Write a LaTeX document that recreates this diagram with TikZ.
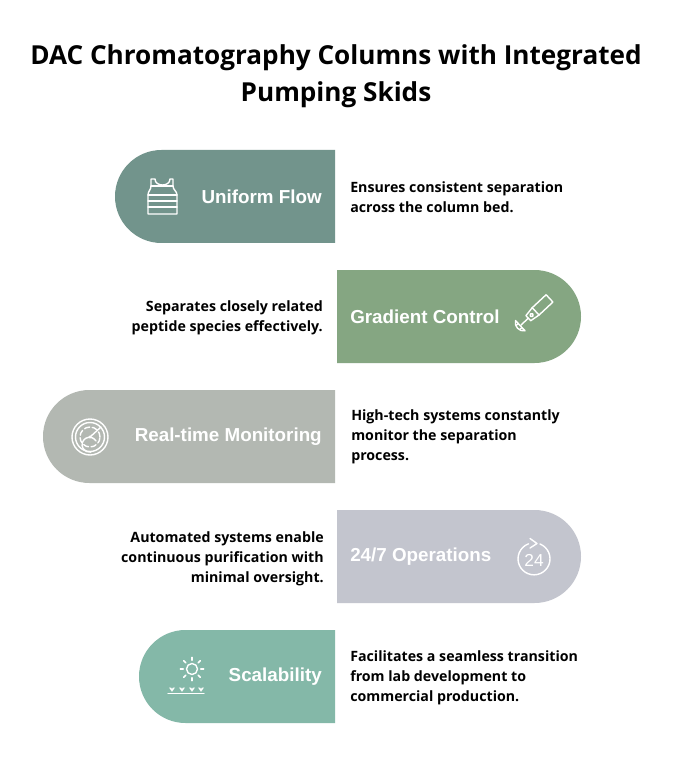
\documentclass[tikz,border=0pt]{standalone}
\usepackage{fontspec}
\setmainfont{Open Sans}
\newfontfamily\labelfont{Liberation Sans}
\usetikzlibrary{arrows.meta}
\definecolor{pa}{HTML}{72948C}
\definecolor{pb}{HTML}{85A682}
\definecolor{pc}{HTML}{B3B8B2}
\definecolor{pd}{HTML}{C3C5CE}
\definecolor{pe}{HTML}{84B8A8}
\tikzset{
 titletext/.style={font=\fontsize{19.6}{27.8}\selectfont\bfseries,align=center,inner sep=0pt,text=black},
 pilllabel/.style={font=\labelfont\fontsize{14.1}{18}\selectfont\bfseries,text=white,inner sep=0pt,anchor=east},
 pilllabelb/.style={font=\labelfont\fontsize{14.1}{18}\selectfont\bfseries,text=white,inner sep=0pt,anchor=west},
 bodyl/.style={font=\fontsize{10.65}{15}\selectfont\bfseries,align=left,anchor=west,inner sep=0pt,text=black},
 bodyr/.style={font=\fontsize{10.65}{15}\selectfont\bfseries,align=right,anchor=east,inner sep=0pt,text=black},
 ic/.style={draw=white,line width=1.05pt,line cap=round,line join=round},
}
\begin{document}
\begin{tikzpicture}[x=0.75pt,y=-0.75pt]
\useasboundingbox (0,0) rectangle (672,780);
\fill[white] (0,0) rectangle (672,780);
\node[titletext] (title) at (336,76.5) {DAC Chromatography Columns with Integrated\\Pumping Skids};
% pills
\fill[pa] (335,150) -- (161.5,150) arc[start angle=90,end angle=270,radius=34.875pt] -- (335,243) -- cycle;
\fill[pb] (337,270) -- (534.5,270) arc[start angle=90,end angle=-90,radius=34.875pt] -- (337,363) -- cycle;
\fill[pc] (335,390) -- (89.5,390) arc[start angle=90,end angle=270,radius=34.875pt] -- (335,483) -- cycle;
\fill[pd] (337,510) -- (534.5,510) arc[start angle=90,end angle=-90,radius=34.875pt] -- (337,603) -- cycle;
\fill[pe] (335,630) -- (185.5,630) arc[start angle=90,end angle=270,radius=34.875pt] -- (335,723) -- cycle;
% labels
\node[pilllabel] (l1) at (322,196.5) {Uniform Flow};
\node[pilllabelb] (l2) at (350,316.5) {Gradient Control};
\node[pilllabel] (l3) at (322,436.5) {Real-time Monitoring};
\node[pilllabelb] (l4) at (350,556.5) {24/7 Operations};
\node[pilllabel] (l5) at (322,676.5) {Scalability};
% body
\node[bodyl] (t1) at (350,197) {Ensures consistent separation\\across the column bed.};
\node[bodyr] (t2) at (323,318) {Separates closely related\\peptide species effectively.};
\node[bodyl] (t3) at (351,437) {High-tech systems constantly\\monitor the separation\\process.};
\node[bodyr] (t4) at (324,559) {Automated systems enable\\continuous purification with\\minimal oversight.};
\node[bodyl] (t5) at (350,678) {Facilitates a seamless transition\\from lab development to\\commercial production.};
% tank top icon
\draw[ic] (151,179) -- (151,186) .. controls (151,190) and (148,191) .. (148,195) -- (148,214) -- (177,214) -- (177,195) .. controls (177,191) and (173,190) .. (173,186) -- (173,179) -- (170,179) .. controls (170,187) and (155,187) .. (155,179) -- cycle;
\draw[ic] (151,186) -- (173,186);
\draw[ic] (148,195) -- (177,195) (148,201) -- (177,201) (148,207) -- (177,207);
% blender icon
\begin{scope}[shift={(521,325)},rotate=43]
\draw[ic] (0,0) -- (10,0);
\draw[ic] (10,-3.5) -- (20,-5) -- (39,-5) -- (39,5) -- (20,5) -- (10,3.5) -- cycle;
\draw[ic] (20,-5) -- (20,5);
\draw[ic] (14.5,0) circle[radius=1.3pt];
\draw[ic] (-1,-7) .. controls (-6,-4) and (-6,4) .. (-1,7) -- cycle;
\draw[ic] (-4,-3) -- (-1,-3) (-4,2.5) -- (-1,2.5);
\end{scope}
% radar icon
\draw[ic] (90,437) circle[radius=18pt*0.75];
\draw[ic] (90,437) circle[radius=14.5pt*0.75];
\draw[ic,dash pattern=on 4pt off 2pt] (90,437) circle[radius=10pt*0.75];
\draw[ic] (96,441) arc[start angle=30,end angle=280,radius=5.6pt];
\draw[ic] (90,437) -- (101,427);
\fill[white] (90,437) circle[radius=1.3pt];
% 24 icon
\draw[ic] (540,544) arc[start angle=68,end angle=-250,radius=16pt*0.75];
\draw[ic] (530,538.5) -- (537,543.5) -- (530,548);
\node[font=\labelfont\fontsize{13}{13}\selectfont,text=white,inner sep=0pt] (n24) at (534,560) {24};
% sun icon
\draw[ic] (192,669) circle[radius=5.5pt*0.75];
\foreach \a in {0,45,...,315}{\draw[ic,line width=1.3pt] (192,669) ++(\a:8.8) -- ++(\a:2.8);}
\draw[ic] (168,693.5) -- (204,693.5);
\foreach \x in {172,182,192,201}{\fill[white] (\x-3,687.5) -- (\x,691.8) -- (\x+3,687.5) -- (\x+1,687.5) -- (\x,689) -- (\x-1,687.5) -- cycle;}
\end{tikzpicture}
\end{document}
